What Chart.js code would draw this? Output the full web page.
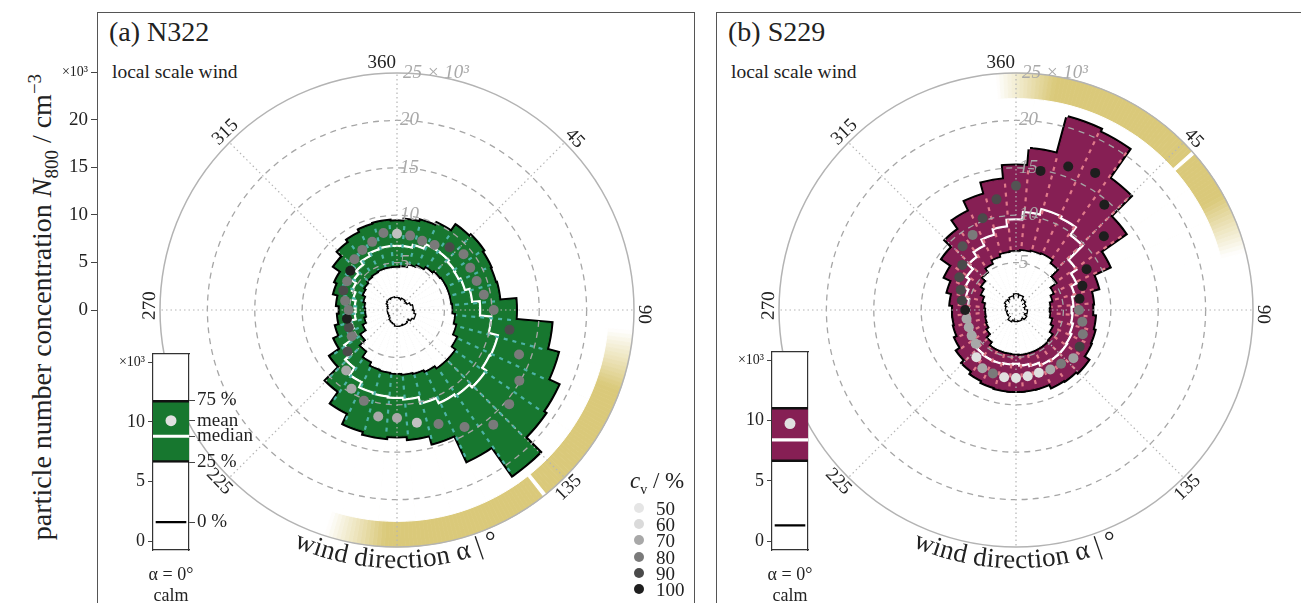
<!DOCTYPE html>
<html>
<head>
<meta charset="utf-8">
<script src="https://cdn.jsdelivr.net/npm/chart.js@4.4.1/dist/chart.umd.min.js"></script>
<style>
  body { margin: 0; width: 1301px; height: 603px; overflow: hidden; background: #fff; position: relative;
         font-family: "Liberation Serif", "Times New Roman", serif; color: #222; }
  canvas, .t { position: absolute; }
  .t { white-space: nowrap; line-height: 1; }
  .frame { position: absolute; top: 12px; height: 640px; border: 1px solid #555; }
  .dot { position: absolute; width: 10px; height: 10px; border-radius: 50%; }
</style>
</head>
<body>
<div class="frame" style="left:97px;width:596px"></div>
<div class="frame" style="left:716px;width:640px"></div>

<div class="t" style="left:109px;top:18px;font-size:28px">(a) N322</div>
<div class="t" style="left:112px;top:62px;font-size:19.5px">local scale wind</div>
<div class="t" style="left:728px;top:18px;font-size:28px">(b) S229</div>
<div class="t" style="left:731px;top:62px;font-size:19.5px">local scale wind</div>

<div class="t" style="left:-215px;top:290px;width:500px;height:34px;line-height:34px;text-align:center;font-size:28px;transform:rotate(-90deg)">particle number concentration <i>N</i><sub style="font-size:19px">800</sub> / cm<sup style="font-size:19px">−3</sup></div>

<canvas id="yaxA" width="98" height="603" style="left:0;top:0"></canvas>
<canvas id="roseA" width="597" height="591" style="left:97px;top:12px"></canvas>
<canvas id="dotsA" width="597" height="591" style="left:97px;top:12px"></canvas>
<canvas id="calmA" width="200" height="263" style="left:100px;top:340px"></canvas>
<canvas id="roseB" width="597" height="591" style="left:716px;top:12px"></canvas>
<canvas id="dotsB" width="597" height="591" style="left:716px;top:12px"></canvas>
<canvas id="calmB" width="200" height="263" style="left:719px;top:340px"></canvas>

<div id="cvLegend"></div>

<script>
// wind direction bins (degrees, bin centres)
const directions = [0, 10, 20, 30, 40, 50, 60, 70, 80, 90, 100, 110, 120, 130, 140, 150, 160, 170,
  180, 190, 200, 210, 220, 230, 240, 250, 260, 270, 280, 290, 300, 310, 320, 330, 340, 350];

// (a) N322, x10^3 cm^-3
const q75A = [9.3, 9.5, 9.7, 10.0, 10.8, 11.0, 10.8, 10.7, 10.8, 12.5, 16.3, 17.5, 18.7, 19.0, 21.2, 17.5, 14.5, 13.6,
  13.3, 13.5, 13.2, 12.0, 10.5, 8.5, 7.2, 6.6, 6.2, 6.0, 6.3, 6.8, 7.1, 8.0, 8.7, 9.0, 9.3, 9.4];
const q50A = [6.6, 6.6, 6.9, 7.4, 7.4, 7.2, 7.1, 7.3, 7.8, 8.6, 9.8, 10.8, 10.7, 11.2, 10.8, 10.6, 10.0, 9.3,
  9.1, 9.0, 8.9, 8.3, 7.4, 6.5, 5.4, 4.8, 4.3, 4.2, 4.3, 4.6, 5.0, 5.4, 5.8, 6.2, 6.5, 6.6];
const q25A = [4.4, 4.5, 4.8, 5.0, 5.3, 5.5, 5.6, 5.6, 5.6, 5.7, 6.0, 6.3, 6.8, 7.3, 7.3, 7.0, 6.8, 6.7,
  6.6, 6.5, 6.4, 6.0, 5.3, 4.5, 3.8, 3.4, 3.2, 3.2, 3.3, 3.5, 3.8, 4.0, 4.2, 4.3, 4.4, 4.4];
const q0A = [1.2, 1.1, 1.0, 1.2, 1.1, 1.0, 1.1, 1.4, 1.6, 1.5, 1.7, 1.9, 1.7, 1.4, 1.5, 1.6, 1.5, 1.6,
  1.6, 1.4, 1.3, 1.2, 1.0, 0.9, 0.9, 0.8, 0.9, 0.9, 0.8, 0.9, 1.0, 1.2, 1.3, 1.2, 1.3, 1.2];
const meanA = [8.05, 7.97, 7.76, 7.92, 8.63, 9.16, 8.92, 8.94, 9.3, 10.2, 12.05, 13.7, 14.9, 15.45, 15.8, 14.25, 12.8, 12.07,
  11.4, 11.4, 10.2, 9.6, 8.34, 6.81, 5.52, 5.4, 5.36, 5.11, 5.56, 6.02, 6.07, 6.43, 6.98, 7.32, 7.65, 8.25];
const cvA = [65, 80, 80, 80, 90, 80, 80, 80, 80, 80, 90, 80, 80, 80, 80, 80, 80, 65,
  70, 70, 80, 70, 70, 90, 80, 90, 100, 80, 80, 90, 80, 100, 80, 80, 80, 80];
const sectorA = [95, 198];
const markA = 141.5;
// calm: 0 %, 25 %, median, mean, 75 %
const calmA = [1.6, 6.6, 8.8, 10.1, 11.8];
const calmCvA = 55;

// (b) S229
const q75B = [15.2, 17.0, 21.0, 20.7, 17.0, 14.0, 10.8, 8.9, 8.1, 8.0, 8.3, 8.5, 8.6, 9.2, 9.0, 8.9, 8.5, 8.5,
  8.5, 8.5, 8.4, 8.2, 7.9, 7.5, 7.0, 6.7, 6.6, 6.6, 6.9, 7.4, 8.2, 9.4, 10.4, 11.5, 12.6, 13.8];
const q50B = [9.4, 10.2, 10.8, 10.6, 9.6, 7.5, 6.8, 6.2, 5.9, 5.7, 5.8, 6.0, 6.2, 6.3, 6.3, 6.2, 5.9, 5.7,
  5.5, 5.6, 5.7, 5.7, 5.6, 5.2, 5.0, 4.9, 4.8, 4.8, 4.9, 5.3, 5.7, 6.1, 6.8, 7.4, 8.1, 8.7];
const q25B = [6.1, 6.2, 6.3, 6.4, 6.0, 5.0, 4.2, 3.8, 3.5, 3.4, 3.5, 3.8, 4.1, 4.5, 4.6, 4.6, 4.6, 4.6,
  4.55, 4.5, 4.5, 4.5, 4.1, 3.6, 3.3, 3.2, 3.1, 3.1, 3.2, 3.5, 3.9, 4.3, 4.8, 5.3, 5.7, 6.0];
const q0B = [1.6, 1.2, 1.5, 1.0, 1.2, 0.8, 1.0, 0.7, 0.8, 0.8, 1.1, 0.7, 0.9, 1.2, 0.9, 1.0, 1.1, 1.0,
  1.1, 0.8, 1.0, 1.2, 0.8, 0.9, 0.7, 0.9, 0.8, 0.8, 1.0, 0.8, 1.1, 1.3, 1.0, 1.2, 1.4, 1.1];
const meanB = [13.1, 14.9, 16.1, 16.7, 14.5, 12.1, 8.6, 7.45, 6.8, 6.65, 7.1, 7.5, 7.75, 7.9, 7.4, 7.24, 7.05, 7.1,
  7.18, 7.2, 7.13, 7.1, 6.5, 5.55, 5.4, 5.3, 5.3, 5.36, 5.8, 6.2, 6.9, 7.4, 8.77, 9.15, 10.3, 11.85];
const cvB = [88, 100, 100, 100, 100, 100, 100, 100, 100, 80, 80, 80, 92, 72, 80, 70, 55, 55,
  55, 55, 80, 70, 55, 70, 70, 70, 70, 100, 92, 90, 90, 90, 88, 80, 90, 90];
const sectorB = [-5, 76];
const markB = 48.5;
const calmB = [1.3, 6.6, 8.4, 9.75, 11.1];
const calmCvB = 55;

const radialTicks = [5, 10, 15, 20, 25];
const angleMarks = [0, 45, 90, 135, 225, 270, 315];
const angleNames = ['360', '45', '90', '135', '225', '270', '315'];
const legendCv = [50, 60, 70, 80, 90, 100];
const calmNames = ['0 %', '25 %', 'median', 'mean', '75 %'];

const family = '"Liberation Serif", "Times New Roman", serif';
Chart.defaults.font.family = family;
Chart.defaults.color = '#222';

const bandOuter = 25, bandInner = 22.3;

function cvColor(v) {
  const stops = [[50, 229], [60, 218], [70, 168], [80, 122], [90, 74], [100, 30]];
  let g = stops[stops.length - 1][1];
  for (let i = 0; i < stops.length - 1; i++) {
    const [a, ga] = stops[i], [b, gb] = stops[i + 1];
    if (v <= a) { g = ga; break; }
    if (v <= b) { g = ga + (gb - ga) * (v - a) / (b - a); break; }
  }
  g = Math.round(g);
  return `rgb(${g},${g},${g})`;
}

// one-degree wedges of the prevailing-wind band, first wedge starts at -5 deg (opaque, faded into white)
function bandColor(sector, mark, idx) {
  const deg = -5 + idx + 0.5;
  if (Math.abs(((deg - mark + 540) % 360) - 180) < 0.6) return '#ffffff';
  const a = ((deg - sector[0]) % 360 + 360) % 360;
  const len = sector[1] - sector[0];
  if (a > len) return '#ffffff';
  const t = Math.min(1, a / 15, (len - a) / 15);
  const mix = (c) => Math.round(255 + (c - 255) * t);
  return `rgb(${mix(218)},${mix(201)},${mix(122)})`;
}

// dash only the clockwise radial side of each wedge
function radialDash(ctx) {
  const scale = ctx.chart.scales.r;
  const r = scale.getDistanceFromCenterForValue(ctx.raw);
  const dash = [0, r * Math.PI / 18 + 4];
  for (let s = 0; s < r; s += 9) dash.push(4, 5);
  dash.push(0, 5000);
  return dash;
}

function roseScale(startAngle, show) {
  return {
    r: {
      min: 0, max: 25, startAngle,
      afterBuildTicks: s => { s.ticks = [0].concat(radialTicks).map(v => ({ value: v })); },
      // tick text is written by the roseText plugin, to the right of the 0 deg line
      ticks: { display: true, showLabelBackdrop: false, backdropPadding: 0, color: 'rgba(0,0,0,0)',
        font: { family, size: 17 } },
      grid: {
        display: show, circular: true, z: 1,
        color: c => c.tick.value === 25 ? '#b3b3b3' : '#a6a6a6',
        lineWidth: c => c.tick.value === 25 ? 1.5 : 1.3
      },
      border: { dash: c => c.tick && c.tick.value === 25 ? [] : [6, 5] },
      angleLines: {
        display: show, color: '#b5b5b5', borderDash: [1.5, 3],
        lineWidth: c => Number(c.label) % 45 === 0 ? 1.2 : 0
      },
      pointLabels: { display: false }
    }
  };
}

const roseText = {
  id: 'roseText',
  afterDraw(chart) {
    const s = chart.scales.r, ctx = chart.ctx;
    const cx = s.xCenter, cy = s.yCenter, R = s.drawingArea;
    ctx.save();
    ctx.textBaseline = 'middle';
    // radial tick labels
    ctx.fillStyle = '#a9a9a9';
    ctx.font = 'italic 19px ' + family;
    ctx.textAlign = 'left';
    radialTicks.forEach(v => {
      ctx.fillText(v === 25 ? '25 × 10³' : String(v), cx + (v === 25 ? 6 : 3), cy - s.getDistanceFromCenterForValue(v));
    });
    // direction labels, tangent to the ring
    ctx.fillStyle = '#222';
    ctx.font = '19px ' + family;
    angleMarks.forEach((a, i) => {
      const th = (a === 0 ? 0 : a + 1) * Math.PI / 180;
      const rr = R + 10;
      ctx.save();
      ctx.translate(cx + rr * Math.sin(th), cy - rr * Math.cos(th));
      ctx.rotate(th + (a > 90 && a < 270 ? Math.PI : 0));
      ctx.textAlign = a === 0 ? 'right' : 'center';
      ctx.fillText(angleNames[i], a === 0 ? -1 : 0, 0);
      ctx.restore();
    });
    // curved axis title along the bottom of the ring
    const title = 'wind direction α | °';
    ctx.font = '27px ' + family;
    ctx.textAlign = 'center';
    const rad = R + 14;
    const total = ctx.measureText(title).width;
    let acc = 0;
    for (const ch of title) {
      const w = ctx.measureText(ch).width;
      const phi = Math.PI + (total / 2 - acc - w / 2) / rad;
      ctx.save();
      ctx.translate(cx + rad * Math.sin(phi), cy - rad * Math.cos(phi));
      ctx.rotate(phi + Math.PI);
      ctx.fillText(ch, 0, 0);
      ctx.restore();
      acc += w;
    }
    ctx.restore();
  }
};

const noHover = { responsive: false, maintainAspectRatio: false, animation: false, events: [],
  plugins: { legend: { display: false }, tooltip: { enabled: false } } };

function drawRose(id, p) {
  const clear = 'rgba(0,0,0,0)';
  const band = Array(360).fill(bandOuter);
  const cover = directions.map(() => bandInner);
  new Chart(document.getElementById(id), {
    type: 'polarArea',
    data: {
      labels: directions.flatMap(d => [d - 5, d]),
      datasets: [
        { data: band, order: 12, borderWidth: 0.8,
          backgroundColor: c => bandColor(p.sector, p.mark, c.dataIndex),
          borderColor: c => bandColor(p.sector, p.mark, c.dataIndex) },
        { data: cover, order: 11, backgroundColor: '#fff', borderColor: '#fff', borderWidth: 1 },
        { data: p.q75, order: 10, backgroundColor: clear, borderColor: '#000', borderWidth: 5, borderJoinStyle: 'miter' },
        { data: p.q75, order: 9, backgroundColor: p.fill, borderColor: p.fill, borderWidth: 1 },
        { data: p.q50, order: 8, backgroundColor: clear, borderColor: '#fff', borderWidth: 5.5, borderJoinStyle: 'miter' },
        { data: p.q50, order: 7, backgroundColor: p.fill, borderColor: p.fill, borderWidth: 1 },
        { data: p.q75, order: 6, backgroundColor: clear, borderColor: p.dash, borderWidth: 2.2, borderDash: radialDash },
        { data: p.q25, order: 5, backgroundColor: clear, borderColor: '#000', borderWidth: 4.5, borderJoinStyle: 'miter' },
        { data: p.q25, order: 4, backgroundColor: '#fff', borderColor: '#fff', borderWidth: 1 },
        { data: p.q0, order: 3, backgroundColor: clear, borderColor: '#000', borderWidth: 3.5, borderJoinStyle: 'miter' },
        { data: p.q0, order: 2, backgroundColor: '#fff', borderColor: '#fff', borderWidth: 1 }
      ]
    },
    options: Object.assign({}, noHover, {
      layout: { padding: { left: 54, right: 51, top: 52, bottom: 47 } },
      scales: roseScale(-5, true)
    }),
    plugins: [roseText]
  });
}

function drawDots(id, mean, cv) {
  new Chart(document.getElementById(id), {
    type: 'radar',
    data: {
      labels: directions,
      datasets: [{ data: mean, showLine: false, fill: false, pointRadius: 5, pointHoverRadius: 5,
        pointBorderWidth: 0, pointBackgroundColor: cv.map(cvColor) }]
    },
    options: Object.assign({}, noHover, {
      layout: { padding: { left: 54, right: 51, top: 52, bottom: 47 } },
      scales: roseScale(0, false)
    })
  });
}

const whiteArea = {
  id: 'whiteArea',
  beforeDraw(chart) {
    const a = chart.chartArea, ctx = chart.ctx;
    ctx.save(); ctx.fillStyle = '#fff'; ctx.fillRect(a.left, a.top, a.right - a.left, a.bottom - a.top); ctx.restore();
  }
};

function drawCalm(id, q, cv, fill, withNames) {
  const [q0, q25, q50, mean, q75] = q;
  const axisFont = c => ({ family, size: c.tick && c.tick.value === 15 ? 14 : 18 });
  new Chart(document.getElementById(id), {
    type: 'bar',
    data: {
      labels: [['α = 0°', 'calm']],
      datasets: [
        { type: 'line', data: [mean], showLine: false, pointRadius: 5.5, pointBorderWidth: 0,
          pointBackgroundColor: cvColor(cv), order: 0 },
        { data: [[q0 - 0.1, q0 + 0.1]], backgroundColor: '#000', barPercentage: 0.85, categoryPercentage: 1, grouped: false, order: 1 },
        { data: [[q50 - 0.1, q50 + 0.1]], backgroundColor: '#fff', barPercentage: 1, categoryPercentage: 1, grouped: false, order: 2 },
        { data: [[q25, q75]], backgroundColor: fill, borderColor: '#111', borderSkipped: false,
          borderWidth: { top: 2.5, bottom: 2.5, left: 0, right: 0 },
          barPercentage: 1, categoryPercentage: 1, grouped: false, order: 3 }
      ]
    },
    options: Object.assign({}, noHover, {
      layout: { padding: { top: 9, left: 0, right: 0, bottom: 0 } },
      scales: {
        x: { position: 'bottom', afterFit: s => { s.height = 53; },
          ticks: { color: '#222', font: { family, size: 18 }, padding: 6 },
          grid: { display: false }, border: { color: '#333', width: 1.2 } },
        xTop: { type: 'category', position: 'top', afterFit: s => { s.height = 0; },
          ticks: { display: false }, grid: { display: false }, border: { color: '#333', width: 1.2 } },
        y: { position: 'left', min: -0.74, max: 15.74, afterFit: s => { s.width = 53; },
          afterBuildTicks: s => { s.ticks = [0, 5, 10, 15].map(v => ({ value: v })); },
          ticks: { color: '#222', padding: 3, font: axisFont, callback: v => v === 15 ? '×10³' : v },
          grid: { drawOnChartArea: false, tickLength: 5, color: '#444' },
          border: { color: '#333', width: 1.2 } },
        yRight: { position: 'right', min: -0.74, max: 15.74, afterFit: s => { s.width = 111; },
          afterBuildTicks: s => { s.ticks = withNames ? q.map(v => ({ value: v })) : []; },
          ticks: { display: withNames, color: '#222', padding: 2, font: { family, size: 19 },
            callback: (v, i) => calmNames[i] },
          grid: { display: withNames, drawOnChartArea: false, tickLength: 6, color: '#444' },
          border: { color: '#333', width: 1.2 } }
      }
    }),
    plugins: [whiteArea]
  });
}

// outer y axis of panel (a)
new Chart(document.getElementById('yaxA'), {
  type: 'bar',
  data: { labels: [''], datasets: [] },
  options: Object.assign({}, noHover, {
    layout: { padding: { top: 72, bottom: 293, left: 0, right: 0 } },
    scales: {
      x: { display: false },
      y: { min: 0, max: 25, afterFit: s => { s.width = 97; },
        afterBuildTicks: s => { s.ticks = [0].concat(radialTicks).map(v => ({ value: v })); },
        ticks: { color: '#222', padding: 3,
          font: c => ({ family, size: c.tick && c.tick.value === 25 ? 14 : 19 }),
          callback: v => v === 25 ? '×10³' : v },
        grid: { drawOnChartArea: false, tickLength: 6, color: '#444' },
        border: { display: false } }
    }
  })
});

drawRose('roseA', { q75: q75A, q50: q50A, q25: q25A, q0: q0A, fill: '#17772f', dash: '#4db3a6', sector: sectorA, mark: markA });
drawDots('dotsA', meanA, cvA);
drawCalm('calmA', calmA, calmCvA, '#17772f', true);

drawRose('roseB', { q75: q75B, q50: q50B, q25: q25B, q0: q0B, fill: '#861f54', dash: '#e07a8a', sector: sectorB, mark: markB });
drawDots('dotsB', meanB, cvB);
drawCalm('calmB', calmB, calmCvB, '#861f54', false);

// c_v legend of panel (a)
const leg = document.getElementById('cvLegend');
let html = '<div class="t" style="left:630px;top:469px;font-size:23px"><i>c</i><sub style="font-size:14px">v</sub> / %</div>';
legendCv.forEach((v, i) => {
  const y = 508 + i * 16.2;
  html += `<div class="dot" style="left:634px;top:${y - 5}px;background:${cvColor(v)}"></div>`;
  html += `<div class="t" style="left:656px;top:${y - 9}px;font-size:19px">${v}</div>`;
});
leg.innerHTML = html;
</script>
</body>
</html>
